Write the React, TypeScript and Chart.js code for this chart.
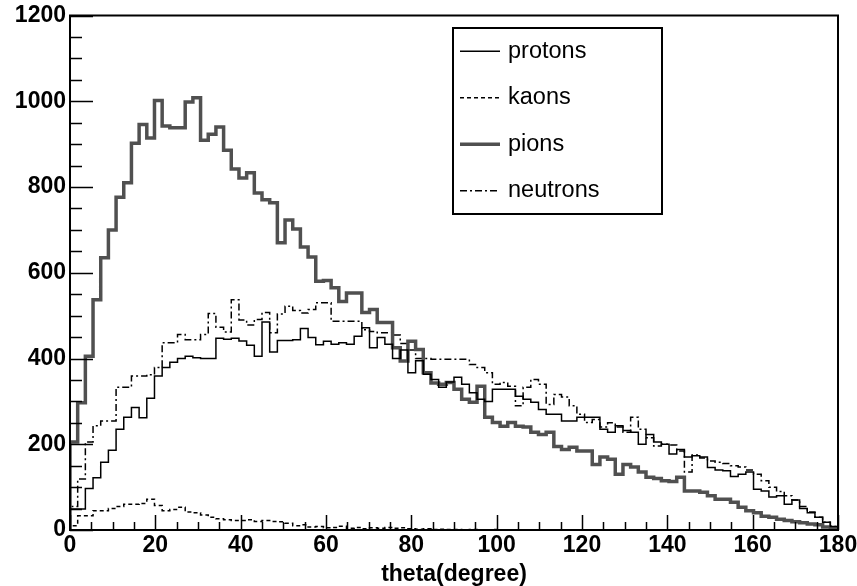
import React, { useEffect, useRef } from "react";
import { Chart, registerables } from "chart.js";

Chart.register(...registerables);

// ---- data (100 bins of 1.8 degrees from 0 to 180) ----
const X_MIN = 0;
const X_MAX = 180;
const BIN_WIDTH = 1.8;
const Y_MIN = 0;
const Y_MAX = 1200;

const X_MAJOR_STEP = 20;
const X_MINOR_STEP = 5;
const Y_MAJOR_STEP = 200;
const Y_MINOR_STEP = 50;

const SERIES_LABELS = ["protons", "kaons", "pions", "neutrons"];
const X_TITLE = "theta(degree)";

const PROTONS = [
  49, 49, 97, 122, 158, 186, 235, 263, 286, 262,
  307, 359, 379, 391, 400, 405, 402, 400, 400, 447,
  445, 447, 441, 431, 405, 485, 415, 442, 442, 444,
  470, 449, 432, 440, 433, 437, 433, 452, 472, 425,
  449, 433, 400, 420, 367, 395, 363, 351, 333, 345,
  356, 340, 320, 305, 300, 328, 328, 328, 312, 305,
  298, 281, 270, 270, 254, 254, 263, 263, 263, 235,
  228, 243, 232, 228, 200, 223, 205, 200, 177, 188,
  170, 173, 170, 146, 140, 138, 125, 130, 135, 95,
  91, 77, 80, 60, 70, 50, 40, 30, 18, 8,
];

const KAONS = [
  10, 33, 33, 45, 45, 50, 55, 60, 60, 62,
  72, 57, 45, 48, 53, 42, 40, 35, 30, 26,
  24, 22, 22, 24, 20, 22, 20, 19, 16, 10,
  12, 7, 8, 5, 6, 9, 4, 6, 3, 5,
  4, 6, 4, 5, 3, 2, 3, 1, 2, 1,
  1, 0, 1, 0, 0, 1, 0, 0, 0, 0,
  0, 0, 0, 0, 0, 0, 0, 0, 0, 0,
  0, 0, 0, 0, 0, 0, 0, 0, 0, 0,
  0, 0, 0, 0, 0, 0, 0, 0, 0, 0,
  0, 0, 0, 0, 0, 0, 0, 0, 0, 0,
];

const PIONS = [
  205, 297, 405, 537, 635, 700, 776, 810, 902, 946,
  914, 1002, 942, 938, 938, 998, 1008, 909, 923, 940,
  886, 842, 821, 833, 786, 770, 763, 670, 723, 702,
  660, 637, 580, 582, 565, 533, 553, 553, 507, 514,
  484, 484, 425, 394, 440, 421, 367, 343, 340, 344,
  328, 305, 298, 335, 263, 251, 242, 251, 242, 240,
  228, 223, 228, 195, 188, 193, 184, 184, 153, 170,
  165, 130, 153, 147, 135, 123, 120, 115, 113, 123,
  91, 91, 88, 80, 72, 72, 65, 53, 45, 40,
  32, 30, 25, 22, 19, 17, 14, 12, 7, 3,
];

const NEUTRONS = [
  55, 119, 205, 243, 254, 254, 333, 333, 359, 359,
  362, 379, 437, 437, 456, 444, 444, 456, 505, 473,
  462, 537, 490, 478, 491, 507, 460, 504, 522, 512,
  506, 514, 530, 530, 487, 487, 487, 487, 467, 463,
  460, 460, 455, 435, 420, 400, 400, 398, 398, 398,
  398, 398, 386, 379, 367, 340, 344, 335, 290, 333,
  351, 340, 293, 316, 310, 290, 270, 251, 258, 240,
  250, 240, 228, 263, 235, 215, 196, 200, 198, 184,
  135, 175, 168, 161, 158, 155, 150, 147, 140, 130,
  115, 100, 90, 80, 70, 55, 42, 30, 18, 8,
];

const FONT_FAMILY = "'Liberation Sans', Arial, Helvetica, sans-serif";

// histogram outline points: left bin edges, stepped so each value holds across its bin
function histPoints(values: number[]) {
  const pts: { x: number; y: number }[] = [{ x: X_MIN, y: 0 }];
  values.forEach((v, i) => pts.push({ x: X_MIN + i * BIN_WIDTH, y: v }));
  pts.push({ x: X_MAX, y: 0 });
  return pts;
}

const frameAndTicksPlugin = {
  id: "rootFrame",
  afterDraw(chart: any) {
    const { ctx, chartArea, scales } = chart;
    const xs = scales.x;
    const ys = scales.y;
    ctx.save();
    ctx.strokeStyle = "#000";
    ctx.lineWidth = 1.5;
    ctx.setLineDash([]);
    ctx.beginPath();
    for (let v = X_MIN; v <= X_MAX + 1e-9; v += X_MINOR_STEP) {
      const px = Math.round(xs.getPixelForValue(v)) + 0.5;
      const len = v % X_MAJOR_STEP === 0 ? 15 : 8;
      ctx.moveTo(px, chartArea.bottom);
      ctx.lineTo(px, chartArea.bottom - len);
    }
    for (let v = Y_MIN; v <= Y_MAX + 1e-9; v += Y_MINOR_STEP) {
      const py = Math.round(ys.getPixelForValue(v)) + 0.5;
      const len = v % Y_MAJOR_STEP === 0 ? 23 : 12;
      ctx.moveTo(chartArea.left, py);
      ctx.lineTo(chartArea.left + len, py);
    }
    ctx.stroke();
    ctx.lineWidth = 2;
    ctx.strokeRect(
      chartArea.left,
      chartArea.top,
      chartArea.right - chartArea.left,
      chartArea.bottom - chartArea.top
    );
    ctx.restore();
  },
};

const legendBoxPlugin = {
  id: "rootLegend",
  afterDraw(chart: any, _args: any, opts: any) {
    const ctx = chart.ctx;
    const { left, top, width, height, sampleFrom, sampleTo, textX, fontSize } = opts;
    const datasets = chart.data.datasets;
    ctx.save();
    ctx.fillStyle = "#fff";
    ctx.fillRect(left, top, width, height);
    ctx.strokeStyle = "#000";
    ctx.lineWidth = 2;
    ctx.setLineDash([]);
    ctx.strokeRect(left, top, width, height);
    const rowH = height / datasets.length;
    datasets.forEach((d: any, i: number) => {
      const cy = top + rowH * (i + 0.5);
      ctx.beginPath();
      ctx.setLineDash(d.borderDash || []);
      ctx.lineWidth = d.borderWidth;
      ctx.strokeStyle = d.borderColor;
      ctx.moveTo(left + sampleFrom, cy);
      ctx.lineTo(left + sampleTo, cy);
      ctx.stroke();
      ctx.setLineDash([]);
      ctx.fillStyle = "#000";
      ctx.font = `${fontSize}px ${FONT_FAMILY}`;
      ctx.textAlign = "left";
      ctx.textBaseline = "middle";
      ctx.fillText(d.label, left + textX, cy);
    });
    ctx.restore();
  },
};

export default function App() {
  const ref = useRef<HTMLCanvasElement>(null);

  useEffect(() => {
    if (!ref.current) return;
    const common = {
      stepped: "before" as const,
      pointRadius: 0,
      fill: false,
      tension: 0,
    };
    const tickFont = { family: FONT_FAMILY, size: 23, weight: "bold", lineHeight: 1 };
    const chart = new Chart(ref.current, {
      type: "line",
      data: {
        datasets: [
          {
            ...common,
            label: SERIES_LABELS[0],
            data: histPoints(PROTONS),
            borderColor: "#000000",
            borderWidth: 1.5,
            borderDash: [],
          },
          {
            ...common,
            label: SERIES_LABELS[1],
            data: histPoints(KAONS),
            borderColor: "#000000",
            borderWidth: 1.5,
            borderDash: [4, 3],
          },
          {
            ...common,
            label: SERIES_LABELS[2],
            data: histPoints(PIONS),
            borderColor: "#505050",
            borderWidth: 3.5,
            borderDash: [],
          },
          {
            ...common,
            label: SERIES_LABELS[3],
            data: histPoints(NEUTRONS),
            borderColor: "#000000",
            borderWidth: 1.5,
            borderDash: [7, 3, 2, 3],
          },
        ],
      },
      options: {
        responsive: false,
        animation: false,
        devicePixelRatio: 1,
        layout: { padding: { left: 0, right: 19, top: 15, bottom: 0 } },
        plugins: {
          legend: { display: false },
          tooltip: { enabled: false },
          rootLegend: {
            left: 453,
            top: 28,
            width: 209,
            height: 186,
            sampleFrom: 7,
            sampleTo: 47,
            textX: 55,
            fontSize: 23.5,
          },
        } as any,
        scales: {
          x: {
            type: "linear",
            min: X_MIN,
            max: X_MAX,
            grid: { display: false, drawTicks: false },
            border: { display: false },
            ticks: {
              stepSize: X_MAJOR_STEP,
              color: "#000",
              padding: 4,
              maxRotation: 0,
              autoSkip: false,
              font: tickFont,
              callback: (v: any) => String(v),
            },
            title: {
              display: true,
              text: X_TITLE,
              color: "#000",
              padding: { top: 0, bottom: 0 },
              font: tickFont,
            },
            afterFit: (scale: any) => {
              scale.height = 56;
              scale.paddingRight = 19;
            },
          },
          y: {
            type: "linear",
            min: Y_MIN,
            max: Y_MAX,
            grid: { display: false, drawTicks: false },
            border: { display: false },
            ticks: {
              stepSize: Y_MAJOR_STEP,
              color: "#000",
              padding: 4,
              font: tickFont,
              callback: (v: any) => String(v),
            },
            afterFit: (scale: any) => {
              scale.width = 70;
            },
          },
        },
      },
      plugins: [frameAndTicksPlugin, legendBoxPlugin],
    } as any);
    return () => chart.destroy();
  }, []);

  return (
    <div
      style={{
        position: "absolute",
        left: 0,
        top: 0,
        width: 857,
        height: 586,
        background: "#fff",
      }}
    >
      <canvas ref={ref} width={857} height={586} style={{ display: "block" }} />
    </div>
  );
}
